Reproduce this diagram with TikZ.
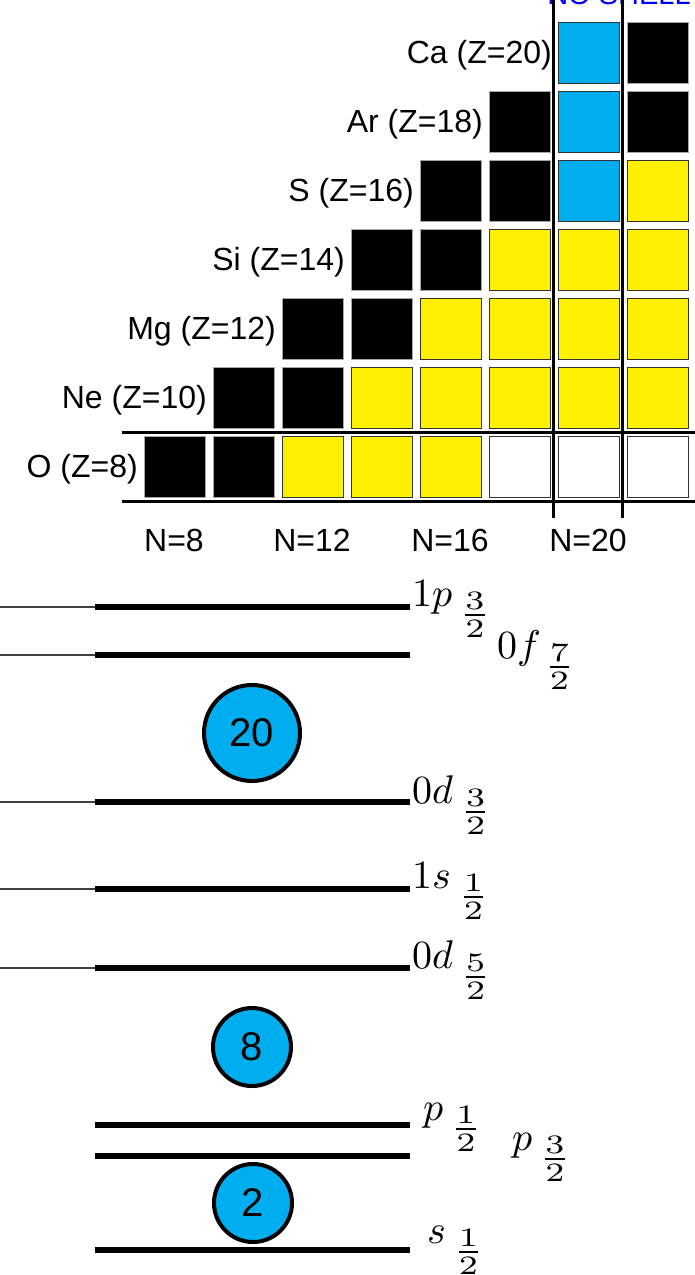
\documentclass[tikz,border=0pt]{standalone}
\usepackage{amsmath}
\usepackage{graphicx}
\usepackage{fontspec}
\newfontfamily\arial{Liberation Sans}
\definecolor{cyanb}{RGB}{0,174,239}
\definecolor{yel}{RGB}{255,240,0}
\newcommand{\biglab}[1]{\scalebox{4}{$#1$}}
\newcommand{\sfr}[2]{\:\scalebox{1.2}[0.95]{$\tfrac{#1}{#2}$}}
\tikzset{
  sq/.style={minimum size=61pt, inner sep=0, anchor=north west, line width=1.2pt},
  sqK/.style={sq, fill=black, draw=gray!70},
  sqY/.style={sq, fill=yel, draw=black!80},
  sqB/.style={sq, fill=cyanb, draw=black!80},
  sqW/.style={sq, fill=white, draw=black!80},
  elab/.style={anchor=base east, inner sep=0, font=\arial\fontsize{32}{38}\selectfont},
  nlab/.style={anchor=base, inner sep=0, font=\arial\fontsize{32}{38}\selectfont},
  rule/.style={line width=3pt},
  thinlev/.style={line width=1.2pt, draw=black!75},
  thicklev/.style={line width=6pt},
  magic/.style={circle, fill=cyanb, draw=black, line width=4pt, inner sep=0, font=\arial\fontsize{40}{48}\selectfont},
  ml/.style={anchor=base west, inner sep=0}
}
\begin{document}
\begin{tikzpicture}[x=1pt,y=-1pt]
\useasboundingbox (0,0) rectangle (695,1275);
% clipped blue heading
\node[anchor=base, inner sep=0, text=blue, font=\arial\fontsize{29}{34}\selectfont] (head) at (619,4) {NO SHELL};
% chart squares
\foreach \r/\lab/\cols in {
  0/{O (Z=8)}/{K,K,Y,Y,Y,W,W,W},
  1/{Ne (Z=10)}/{K,K,Y,Y,Y,Y,Y},
  2/{Mg (Z=12)}/{K,K,Y,Y,Y,Y},
  3/{Si (Z=14)}/{K,K,Y,Y,Y},
  4/{S (Z=16)}/{K,K,B,Y},
  5/{Ar (Z=18)}/{K,B,K},
  6/{Ca (Z=20)}/{B,K}}{
  \node[elab] (lab\r) at ({143+69*\r-5},{435-69*\r+42.5}) {\lab};
  \foreach \s [count=\ci from \r] in \cols {
    \node[sq\s] (s-\r-\ci) at ({143.5+69*\ci},{435.5-69*\r}) {};
  }
}
% N labels
\foreach \n/\c in {8/0,12/2,16/4,20/6}{
  \node[nlab] (N\n) at ({143+69*\c+31},551) {N=\n};
}
% shell closure rules
\draw[rule] (122,432) -- (695,432);
\draw[rule] (122,501) -- (695,501);
\draw[rule] (553,-5) -- (553,518);
\draw[rule] (622,-5) -- (622,518);
% level scheme
\foreach \yy in {607,655,802,889,968}{
  \draw[thinlev] (0,\yy) -- (95,\yy);
}
\foreach \yy in {607,655,802,889,968,1125,1156,1250}{
  \draw[thicklev] (95,\yy) -- (410,\yy);
}
\node[magic, minimum size=96pt] (m20) at (252,733) {20};
\node[magic, minimum size=78pt] (m8) at (252,1047) {8};
\node[magic, minimum size=78pt] (m2) at (253,1203) {2};
\node[ml] (l1p3) at (412,606) {\biglab{1p_{\sfr{3}{2}}}};
\node[ml] (l0f7) at (497,658) {\biglab{0f_{\sfr{7}{2}}}};
\node[ml] (l0d3) at (412,803) {\biglab{0d_{\sfr{3}{2}}}};
\node[ml] (l1s1) at (412,888) {\biglab{1s_{\sfr{1}{2}}}};
\node[ml] (l0d5) at (412,968) {\biglab{0d_{\sfr{5}{2}}}};
\node[ml] (lp1) at (423,1120) {\biglab{p_{\sfr{1}{2}}}};
\node[ml] (lp3) at (512,1150) {\biglab{p_{\sfr{3}{2}}}};
\node[ml] (ls1) at (427,1243) {\biglab{s_{\sfr{1}{2}}}};
\end{tikzpicture}
\end{document}
